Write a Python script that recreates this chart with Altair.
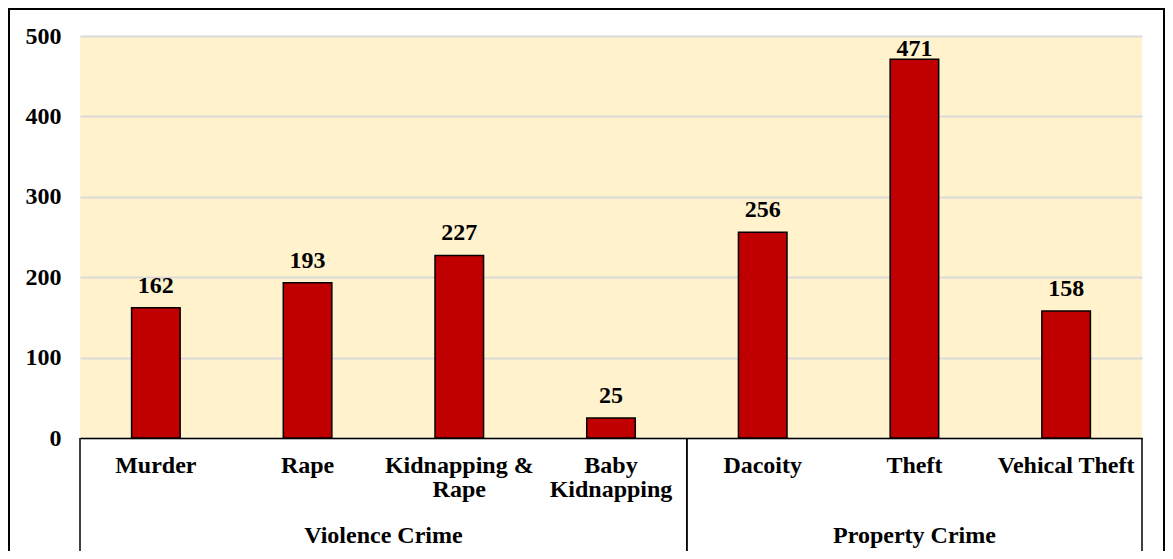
import altair as alt
import pandas as pd

categories = ["Murder", "Rape", "Kidnapping & Rape", "Baby Kidnapping",
              "Dacoity", "Theft", "Vehical Theft"]
label_lines = ["Murder", "Rape", "Kidnapping &\nRape", "Baby\nKidnapping",
               "Dacoity", "Theft", "Vehical Theft"]
group_of = ["Violence Crime"] * 4 + ["Property Crime"] * 3
values = [162, 193, 227, 25, 256, 471, 158]

group_names = ["Violence Crime", "Property Crime"]
group_first = ["Murder", "Dacoity"]
group_last = ["Baby Kidnapping", "Vehical Theft"]
group_mid = ["Kidnapping & Rape", "Theft"]
y_ticks = [0, 100, 200, 300, 400, 500]

df = pd.DataFrame({"cat": categories, "label": label_lines,
                   "group": group_of, "value": values})
gdf = pd.DataFrame({"group": group_names, "first": group_first,
                    "last": group_last, "mid": group_mid})

W, H = 1062, 402
FONT = "'Liberation Serif', 'Times New Roman', Times, 'DejaVu Serif', serif"
xscale = alt.Scale(domain=categories, paddingInner=0, paddingOuter=0)

base = alt.Chart(df)

bars = base.mark_bar(color="#C00000", stroke="black", strokeWidth=1.5,
                     width=alt.RelativeBandSize(0.32)).encode(
    x=alt.X("cat:N", scale=xscale, sort=categories,
            axis=alt.Axis(labels=False, ticks=False, title=None, grid=False,
                          domainColor="black", domainWidth=1.5)),
    y=alt.Y("value:Q", scale=alt.Scale(domain=[0, 500]),
            axis=alt.Axis(values=y_ticks, title=None, domain=False, ticks=False,
                          labelPadding=19, labelFontSize=24, labelFontWeight="bold",
                          labelFont=FONT, labelColor="black",
                          gridColor="#D9D9D9", gridWidth=2)),
)

# labels sit above the bar, kept inside the plot area (as the original does for 471)
value_labels = base.transform_calculate(
    label_y="min(datum.value + 18.7, 475)"
).mark_text(font=FONT, fontSize=24, fontWeight="bold",
            color="black", baseline="alphabetic").encode(
    x=alt.X("cat:N", scale=xscale, sort=categories),
    y=alt.Y("label_y:Q"),
    text=alt.Text("value:Q"),
)

cat_labels = base.mark_text(font=FONT, fontSize=24, fontWeight="bold", color="black",
                            baseline="top", lineBreak="\n", lineHeight=24).encode(
    x=alt.X("cat:N", scale=xscale, sort=categories),
    y=alt.value(H + 16),
    text=alt.Text("label:N"),
)

gbase = alt.Chart(gdf)
rules_first = gbase.mark_rule(color="black", strokeWidth=1.5).encode(
    x=alt.X("first:N", scale=xscale, bandPosition=0),
    y=alt.value(H), y2=alt.value(H + 113),
)
rules_last = gbase.mark_rule(color="black", strokeWidth=1.5).encode(
    x=alt.X("last:N", scale=xscale, bandPosition=1),
    y=alt.value(H), y2=alt.value(H + 113),
)

glabel_v = gbase.transform_filter(alt.datum.group == "Violence Crime").mark_text(
    font=FONT, fontSize=24, fontWeight="bold", color="black", baseline="alphabetic").encode(
    x=alt.X("mid:N", scale=xscale, bandPosition=0),
    y=alt.value(H + 105),
    text="group:N",
)
glabel_p = gbase.transform_filter(alt.datum.group == "Property Crime").mark_text(
    font=FONT, fontSize=24, fontWeight="bold", color="black", baseline="alphabetic").encode(
    x=alt.X("mid:N", scale=xscale, bandPosition=0.5),
    y=alt.value(H + 105),
    text="group:N",
)

border = alt.Chart(pd.DataFrame({"k": [0]})).mark_rect(
    fill="transparent", stroke="black", strokeWidth=2).encode(
    x=alt.value(-71), x2=alt.value(W + 22),
    y=alt.value(-27), y2=alt.value(H + 140),
)

chart = alt.layer(bars, value_labels, cat_labels, rules_first, rules_last,
                  glabel_v, glabel_p, border).properties(
    width=W, height=H,
    padding={"left": 72, "top": 28, "right": 23, "bottom": 113},
    autosize="none",
    background="white",
).configure_view(fill="#FFF2CC", strokeWidth=0)

chart.save("out.html", embed_options={"renderer": "svg", "actions": False})
